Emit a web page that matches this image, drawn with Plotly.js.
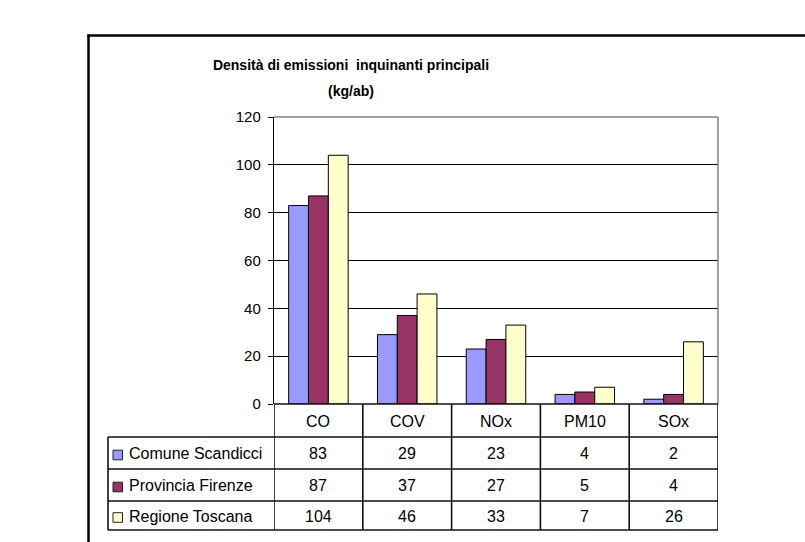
<!DOCTYPE html>
<html>
<head>
<meta charset="utf-8">
<script src="https://cdn.plot.ly/plotly-3.0.1.min.js"></script>
<style>html,body{margin:0;padding:0;background:#fff;overflow:hidden;}#chart{width:805px;height:542px;}</style>
</head>
<body>
<div id="chart"></div>
<script>
// ---- data ----
const categories = ['CO', 'COV', 'NOx', 'PM10', 'SOx'];
const seriesNames = ['Comune Scandicci', 'Provincia Firenze', 'Regione Toscana'];
const comune = [83, 29, 23, 4, 2];
const provincia = [87, 37, 27, 5, 4];
const regione = [104, 46, 33, 7, 26];
const yTickValues = [0, 20, 40, 60, 80, 100, 120];
const titleLine1 = 'Densità di emissioni  inquinanti principali';
const titleLine2 = '(kg/ab)';

// ---- style ----
const seriesValues = [comune, provincia, regione];
const colors = ['#9999FF', '#993366', '#FFFFCC'];
const FONT = 'Liberation Sans, Arial, Helvetica, sans-serif';
const W = 805, H = 542;
const L = 274, R = 718, T = 117, B = 404;
const px = x => (x - L) / (R - L);
const py = y => (B - y) / (B - T);
const rowTop = [404, 437, 469, 501];
const rowBottom = [437, 469, 501, 530];
const rowCenter = rowTop.map((t, i) => (t + rowBottom[i]) / 2 + 0.5);
const tableLeft = 108;
const lineCol = '#111';

const traces = seriesNames.map((name, i) => ({
  type: 'bar',
  name: name,
  x: categories,
  y: seriesValues[i],
  marker: {color: colors[i], line: {color: '#000', width: 1}},
  hoverinfo: 'skip'
}));

const shapes = [];
// outer chart frame (cropped: only top and left edges visible)
shapes.push({type: 'line', xref: 'paper', yref: 'paper', x0: px(87.5), x1: px(806), y0: py(35.5), y1: py(35.5),
  line: {color: '#000', width: 2.5}, layer: 'below'});
shapes.push({type: 'line', xref: 'paper', yref: 'paper', x0: px(88.5), x1: px(88.5), y0: py(34.5), y1: py(542),
  line: {color: '#000', width: 2.5}, layer: 'below'});
// plot area top/right borders (gray)
shapes.push({type: 'line', xref: 'paper', yref: 'paper', x0: 0, x1: 1, y0: 1, y1: 1, line: {color: '#808080', width: 1.5}});
shapes.push({type: 'line', xref: 'paper', yref: 'paper', x0: 1, x1: 1, y0: 0, y1: 1, line: {color: '#808080', width: 1.5}});
// table horizontal lines
[437, 469, 501, 530].forEach(y => shapes.push({type: 'line', xref: 'paper', yref: 'paper',
  x0: px(tableLeft), x1: 1, y0: py(y), y1: py(y), line: {color: lineCol, width: 1.6}}));
shapes.push({type: 'line', xref: 'paper', yref: 'paper', x0: 0, x1: 1, y0: 0, y1: 0, line: {color: lineCol, width: 1.6}});
// table vertical lines at category boundaries
for (let k = 0; k <= categories.length; k++) {
  shapes.push({type: 'line', xref: 'x', yref: 'paper', x0: k - 0.5, x1: k - 0.5, y0: py(530), y1: 0,
    line: {color: lineCol, width: 1.6}});
}
shapes.push({type: 'line', xref: 'paper', yref: 'paper', x0: px(tableLeft), x1: px(tableLeft), y0: py(530), y1: py(437),
  line: {color: lineCol, width: 1.6}});
// legend keys
seriesNames.forEach((n, i) => {
  const c = rowCenter[i + 1] + 1.5;
  shapes.push({type: 'rect', xref: 'paper', yref: 'paper', x0: px(113), x1: px(122.5), y0: py(c + 4.8), y1: py(c - 4.8),
    fillcolor: colors[i], line: {color: '#222', width: 1}});
});

const annotations = [];
// title line 2
annotations.push({xref: 'paper', yref: 'paper', x: px(351), y: py(91.5), text: titleLine2, showarrow: false,
  xanchor: 'center', yanchor: 'middle', font: {family: FONT, size: 14, color: '#000', weight: 'bold'}});
// header row: category labels
categories.forEach(c => annotations.push({xref: 'x', yref: 'paper', x: c, y: py(rowCenter[0]), text: c,
  showarrow: false, xanchor: 'center', yanchor: 'middle', font: {family: FONT, size: 16, color: '#000'}}));
// values
seriesValues.forEach((vals, i) => {
  vals.forEach((v, j) => annotations.push({xref: 'x', yref: 'paper', x: categories[j], y: py(rowCenter[i + 1]),
    text: String(v), showarrow: false, xanchor: 'center', yanchor: 'middle', font: {family: FONT, size: 16, color: '#000'}}));
  annotations.push({xref: 'paper', yref: 'paper', x: px(127), y: py(rowCenter[i + 1]), text: seriesNames[i],
    showarrow: false, xanchor: 'left', yanchor: 'middle', font: {family: FONT, size: 16, color: '#000'}});
});

const layout = {
  width: W, height: H,
  margin: {l: L, r: W - R, t: T, b: H - B, pad: 0},
  paper_bgcolor: '#fff', plot_bgcolor: '#fff',
  showlegend: false,
  barmode: 'group', bargap: 0.33, bargroupgap: 0,
  title: {text: titleLine1, x: 351 / W, xanchor: 'center', xref: 'container', y: 1 - 65 / H, yanchor: 'middle', yref: 'container',
    font: {family: FONT, size: 14, color: '#000', weight: 'bold'}},
  font: {family: FONT, color: '#000'},
  xaxis: {type: 'category', range: [-0.5, categories.length - 0.5], showticklabels: false, ticks: '',
    showgrid: false, zeroline: false, showline: false, fixedrange: true},
  yaxis: {range: [0, 120], tickvals: yTickValues, ticktext: yTickValues.map(String), ticks: 'outside', ticklen: 5,
    tickcolor: '#000', tickwidth: 1, showline: true, linecolor: '#000', linewidth: 1.2,
    showgrid: true, gridcolor: '#000', gridwidth: 1, zeroline: false,
    tickfont: {family: FONT, size: 15, color: '#000'}, ticklabelstandoff: 4, fixedrange: true},
  shapes: shapes,
  annotations: annotations
};

Plotly.newPlot('chart', traces, layout, {staticPlot: true, displayModeBar: false});
</script>
</body>
</html>
